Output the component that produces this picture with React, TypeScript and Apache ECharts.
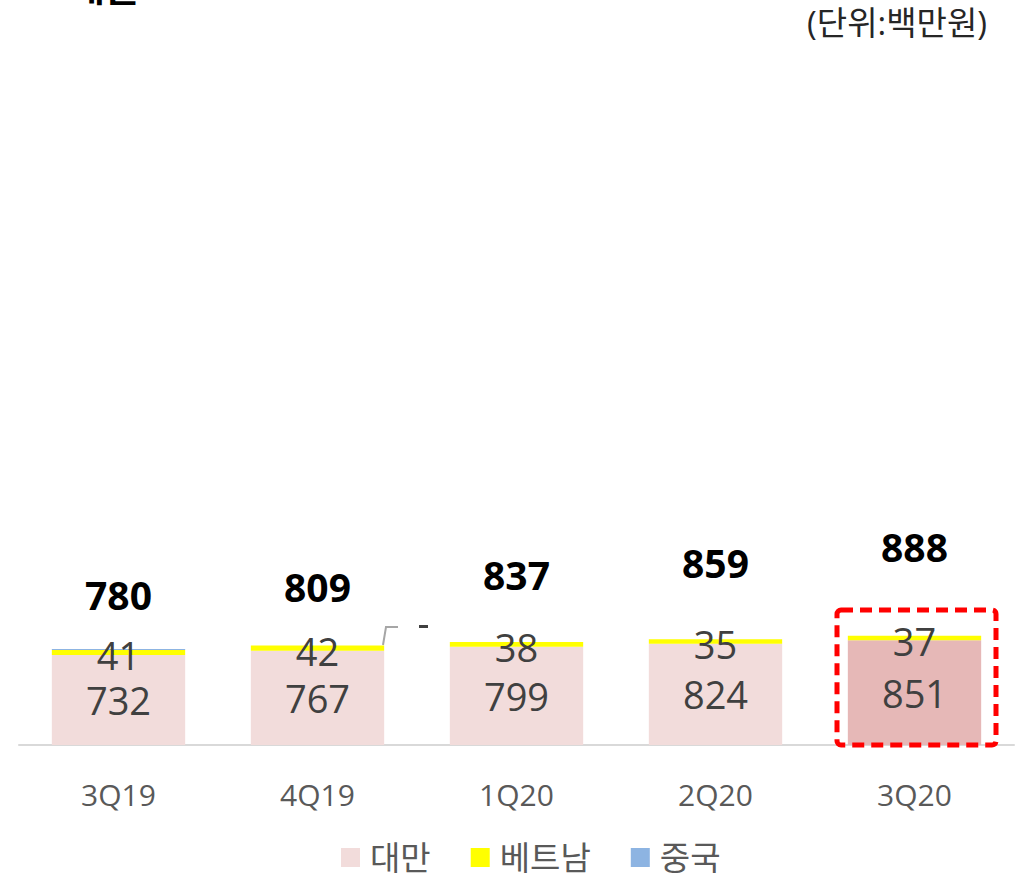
import React, { useEffect, useRef } from "react";
import * as echarts from "echarts";

const categories = ["3Q19", "4Q19", "1Q20", "2Q20", "3Q20"];
const taiwan = [732, 767, 799, 824, 851];
const vietnam = [41, 42, 38, 35, 37];
const china = [7, 0, 0, 0, 0];
const seriesNames = ["대만", "베트남", "중국"];
const unitText = "(단위:백만원)";

// extra lift of each total label (style only)
const totalLift = [35, 39, 48, 57, 70];

const FONT = "'Open Sans', 'Noto Sans CJK KR', sans-serif";

export default function App() {
  const ref = useRef<HTMLDivElement>(null);
  useEffect(() => {
    document.body.style.margin = "0";
    const chart = echarts.init(ref.current!, null, { renderer: "svg" });
    const totals = categories.map((_, i) => taiwan[i] + vietnam[i] + china[i]);
    chart.setOption({
      animation: false,
      textStyle: { fontFamily: FONT },
      grid: { left: 19, right: 11, top: 130, bottom: 132 },
      legend: {
        data: seriesNames,
        top: 836,
        left: 336,
        itemWidth: 19,
        itemHeight: 19,
        itemGap: 40,
        icon: "rect",
        textStyle: { fontSize: 33, color: "#595959", fontFamily: FONT, padding: [0, 0, 0, 5] },
      },
      xAxis: {
        type: "category",
        data: categories,
        axisLine: { lineStyle: { color: "#d9d9d9", width: 2 } },
        axisTick: { show: false },
        axisLabel: { fontSize: 30, color: "#595959", margin: 34 },
      },
      yAxis: { type: "value", min: 0, max: 5000, show: false },
      series: [
        {
          name: seriesNames[0],
          type: "bar",
          stack: "s",
          barCategoryGap: "33%",
          barGap: "-100%",
          itemStyle: { color: "#f2dcdb" },
          data: taiwan.map((v, i) => ({
            value: v,
            itemStyle: { color: i === categories.length - 1 ? "#e6b8b7" : "#f2dcdb" },
          })),
          label: { show: true, position: "inside", fontSize: 38, color: "#404040" },
        },
        {
          name: seriesNames[1],
          type: "bar",
          stack: "s",
          data: vietnam,
          itemStyle: { color: "#ffff00" },
          label: { show: true, position: "inside", fontSize: 38, color: "#404040", offset: [0, 3] },
        },
        {
          name: seriesNames[2],
          type: "bar",
          stack: "s",
          data: china,
          itemStyle: { color: "#8db4e2" },
          label: { show: false },
        },
        {
          name: "합계",
          type: "bar",
          barGap: "-100%",
          data: totals.map((v, i) => ({
            value: v,
            label: { offset: [0, -totalLift[i]] },
          })),
          itemStyle: { color: "rgba(0,0,0,0)" },
          label: {
            show: true,
            position: "top",
            distance: 0,
            fontSize: 39,
            fontWeight: "bold",
            color: "#000000",
          },
          z: 5,
        },
      ],
      graphic: [
        {
          type: "text",
          right: 38,
          top: 6,
          style: { text: unitText, fontSize: 33, fill: "#262626", fontFamily: FONT },
        },
        {
          type: "text",
          left: 70,
          top: -33,
          style: { text: "매출", fontSize: 38, fontWeight: "bold", fill: "#000", fontFamily: FONT },
        },
        {
          type: "rect",
          shape: { x: 837, y: 610, width: 159, height: 135, r: 4 },
          style: { fill: "none", stroke: "#ff0000", lineWidth: 5, lineDash: [12, 7] },
          z: 10,
        },
        {
          type: "polyline",
          shape: { points: [[383, 645], [386, 627], [398, 627]] },
          style: { stroke: "#a6a6a6", lineWidth: 2, fill: "none" },
        },
        {
          type: "rect",
          shape: { x: 419, y: 625, width: 9, height: 3 },
          style: { fill: "#404040" },
        },
      ],
    });
    return () => chart.dispose();
  }, []);
  return <div ref={ref} style={{ width: 1025, height: 877 }} />;
}
